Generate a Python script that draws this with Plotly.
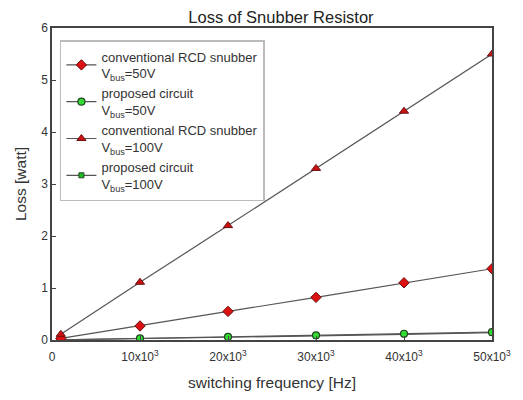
import plotly.graph_objects as go

freq = [1000, 10000, 20000, 30000, 40000, 50000]
rcd_50 = [0.03, 0.27, 0.55, 0.82, 1.10, 1.37]
prop_50 = [0.005, 0.03, 0.06, 0.09, 0.12, 0.15]
rcd_100 = [0.11, 1.11, 2.20, 3.30, 4.40, 5.50]
prop_100 = [0.004, 0.025, 0.055, 0.08, 0.11, 0.14]

tick_vals = [0, 10000, 20000, 30000, 40000, 50000]
tick_text = ["0", "10x10<sup>3</sup>", "20x10<sup>3</sup>", "30x10<sup>3</sup>",
             "40x10<sup>3</sup>", "50x10<sup>3</sup>"]

names = ["conventional RCD snubber<br>V<sub>bus</sub>=50V",
         "proposed circuit<br>V<sub>bus</sub>=50V",
         "conventional RCD snubber<br>V<sub>bus</sub>=100V",
         "proposed circuit<br>V<sub>bus</sub>=100V"]

line_c = "#555555"
fig = go.Figure()
fig.add_trace(go.Scatter(x=freq, y=prop_100, name=names[3], mode="lines+markers",
                         line=dict(color=line_c, width=1.2),
                         marker=dict(symbol="square", size=5, color="#22bb22",
                                     line=dict(color="#224422", width=1)),
                         legendrank=4))
fig.add_trace(go.Scatter(x=freq, y=prop_50, name=names[1], mode="lines+markers",
                         line=dict(color=line_c, width=1.2),
                         marker=dict(symbol="circle", size=7, color="#33dd33",
                                     line=dict(color="#224422", width=1.2)),
                         legendrank=2))
fig.add_trace(go.Scatter(x=freq, y=rcd_50, name=names[0], mode="lines+markers",
                         line=dict(color=line_c, width=1.2),
                         marker=dict(symbol="diamond", size=8, color="#dd1111",
                                     line=dict(color="#661111", width=1)),
                         legendrank=1))
fig.add_trace(go.Scatter(x=freq, y=rcd_100, name=names[2], mode="lines+markers",
                         line=dict(color=line_c, width=1.2),
                         marker=dict(symbol="triangle-up", size=8, color="#cc1111",
                                     line=dict(color="#661111", width=1)),
                         legendrank=3))

fig.update_layout(
    width=515, height=392,
    margin=dict(l=44, r=31, t=20, b=60, autoexpand=False),
    paper_bgcolor="white", plot_bgcolor="white",
    font=dict(family="Liberation Sans, Arial, sans-serif", size=12, color="#333333"),
    title=dict(text="Loss of Snubber Resistor", x=0.53, xanchor="center", y=0.99,
               yanchor="top", font=dict(size=16.5, color="#222222"), automargin=False,
               pad=dict(t=0, b=0)),
    legend=dict(x=0.018, y=0.9615, xanchor="left", yanchor="top",
                bgcolor="white", bordercolor="#bbbbbb", borderwidth=1.5,
                font=dict(size=13, color="#333333"), tracegroupgap=4,
                itemwidth=30),
    showlegend=True,
)
fig.update_xaxes(range=[0, 50000], tickvals=tick_vals, ticktext=tick_text,
                 showgrid=False, zeroline=False, showline=True, linecolor="#444444",
                 linewidth=1.5, mirror=True, ticks="inside", ticklen=4,
                 tickcolor="#444444", automargin=False, ticklabelstandoff=5,
                 title=dict(text="switching frequency [Hz]", font=dict(size=15.5),
                            standoff=14))
fig.update_yaxes(range=[0, 6], dtick=1, showgrid=False, zeroline=False,
                 showline=True, linecolor="#444444", linewidth=1.5, mirror=True,
                 ticks="inside", ticklen=4, tickcolor="#444444", automargin=False,
                 ticklabelstandoff=0,
                 title=dict(text="Loss [watt]", font=dict(size=15.5), standoff=11))

fig.write_html("out.html")
